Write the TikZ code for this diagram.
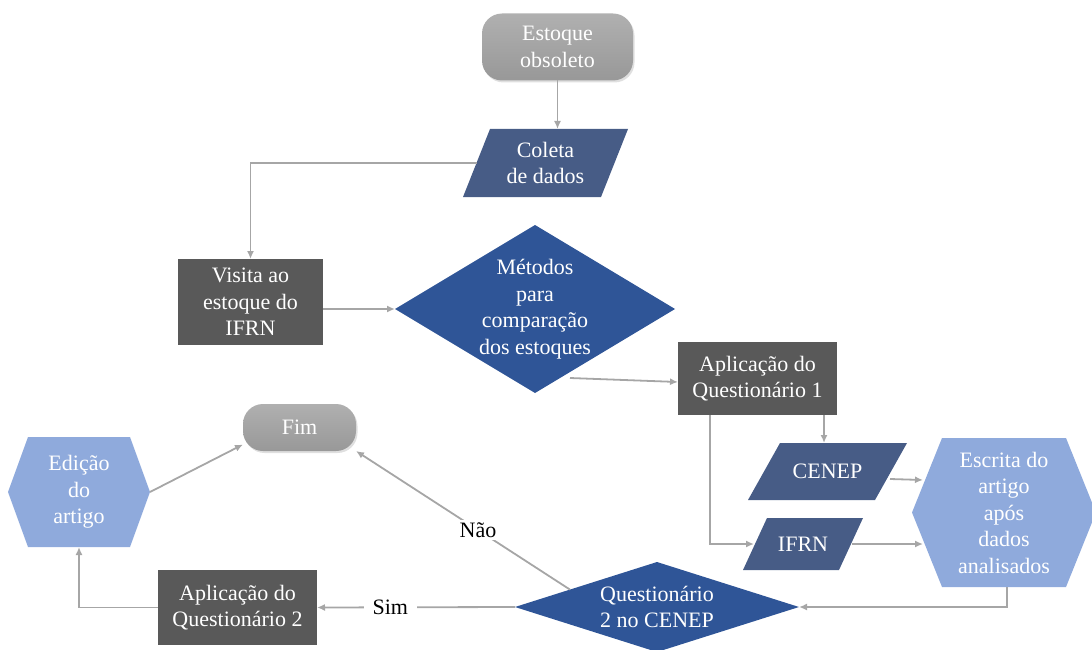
\documentclass[tikz,border=0pt]{standalone}
\usepackage{fontspec}
\setmainfont{Liberation Serif}
\usetikzlibrary{calc,arrows.meta,backgrounds,shadows}
\definecolor{dgray}{HTML}{595959}
\definecolor{slate}{HTML}{475C86}
\definecolor{dblue}{HTML}{2F5597}
\definecolor{lblue}{HTML}{8FAADC}
\definecolor{linec}{HTML}{A6A6A6}
\definecolor{pilltop}{HTML}{B0B0B0}
\definecolor{pillbot}{HTML}{989898}
\newcommand\myparal[3]{\fill[#3] ($(#1.north west)+(#2,0)$) -- (#1.north east) -- ($(#1.south east)-(#2,0)$) -- (#1.south west) -- cycle;}
\newcommand\myhex[3]{\fill[#3] (#1.west) -- ($(#1.north west)+(#2,0)$) -- ($(#1.north east)-(#2,0)$) -- (#1.east) -- ($(#1.south east)-(#2,0)$) -- ($(#1.south west)+(#2,0)$) -- cycle;}
\newcommand\mydiam[2]{\fill[#2] (#1.west) -- (#1.north) -- (#1.east) -- (#1.south) -- cycle;}
\begin{document}
\begin{tikzpicture}[x=1pt,y=-1pt,
  base/.style={inner sep=0pt, outer sep=0pt, align=center, text=white, font=\fontsize{22}{26.5}\selectfont},
  pill/.style={base, rounded corners=20pt, top color=pilltop, bottom color=pillbot,
    drop shadow={opacity=0.25, shadow xshift=1.5pt, shadow yshift=-2pt}},
  box/.style={base, fill=dgray},
  arr/.style={draw=linec, line width=1.8pt, -{Latex[length=8pt,width=7pt]}},
  lbl/.style={fill=white, text=black, inner xsep=9pt, inner ysep=2pt, font=\fontsize{22}{26.5}\selectfont}
]
\useasboundingbox (0,0) rectangle (1092,650);

% nodes
\node[pill, minimum width=151pt, minimum height=67pt] (est) at (557.5,47) {Estoque\\obsoleto};
\node[base, minimum width=165pt, minimum height=68pt] (col) at (545.5,163) {Coleta\\de dados};
\node[box, minimum width=145pt, minimum height=86pt] (vis) at (250.5,302) {Visita ao\\estoque do\\IFRN};
\node[base, minimum width=280pt, minimum height=168pt] (met) at (535,309) {Métodos\\para\\comparação\\dos estoques};
\node[box, minimum width=159pt, minimum height=73pt] (q1) at (757.5,378.5) {Aplicação do\\Questionário 1};
\node[base, minimum width=159pt, minimum height=57pt] (cen) at (827.5,471.5) {CENEP};
\node[base, minimum width=120pt, minimum height=52pt] (ifr) at (803,544) {IFRN};
\node[base, minimum width=184pt, minimum height=149pt] (esc) at (1004,512.5) {Escrita do\\artigo\\após\\dados\\analisados};
\node[base, minimum width=284pt, minimum height=90pt] (q2) at (657,607) {Questionário\\2 no CENEP};
\node[box, minimum width=159pt, minimum height=75pt] (q2a) at (237.5,607.5) {Aplicação do\\Questionário 2};
\node[base, minimum width=142pt, minimum height=110pt] (edi) at (79,492) {Edição\\do\\artigo};
\node[pill, minimum width=113pt, minimum height=47pt] (fim) at (299.5,427.5) {Fim};

% shapes behind text
\begin{scope}[on background layer]
  \myparal{col}{27}{slate}
  \mydiam{met}{dblue}
  \myparal{cen}{32}{slate}
  \myparal{ifr}{24}{slate}
  \myhex{esc}{30}{lblue}
  \mydiam{q2}{dblue}
  \myhex{edi}{20}{lblue}
\end{scope}

% connectors
\draw[arr] (est.south) -- (est.south |- col.north);
\draw[arr] ($(col.west)+(13.5,0)$) -| (vis.north);
\draw[arr] (vis.east |- met.west) -- (met.west);
\coordinate (m1) at ($(met.center)+(35,69)$);
\draw[arr] (m1) -- ($(q1.west)+(0,3.5)$);
\draw[arr] ($(q1.south)+(66.5,0)$) -- ($(cen.north)+(-3.5,0)$);
\draw[arr] ($(q1.south west)+(32,0)$) |- ($(ifr.west)+(11,0)$);
\draw[arr] ($(cen.east)+(-17,7.5)$) -- ($(esc.west)+(11,-32.5)$);
\draw[arr] ($(ifr.east)+(-11,0)$) -- ($(esc.west)+(11,31.5)$);
\draw[arr] ($(esc.south)+(3,0)$) |- (q2.east);
\draw[arr] (q2.west) -- node[lbl, pos=0.63] {Sim} (q2a.east);
\draw[arr] (q2a.west) -| (edi.south);
\draw[arr] (edi.east) -- ($(fim.west)+(0,17)$);
\draw[arr] ($(q2.west)!0.387!(q2.north)$) -- node[lbl, pos=0.43, inner xsep=4pt] {Não} (fim.south east);
\end{tikzpicture}
\end{document}
